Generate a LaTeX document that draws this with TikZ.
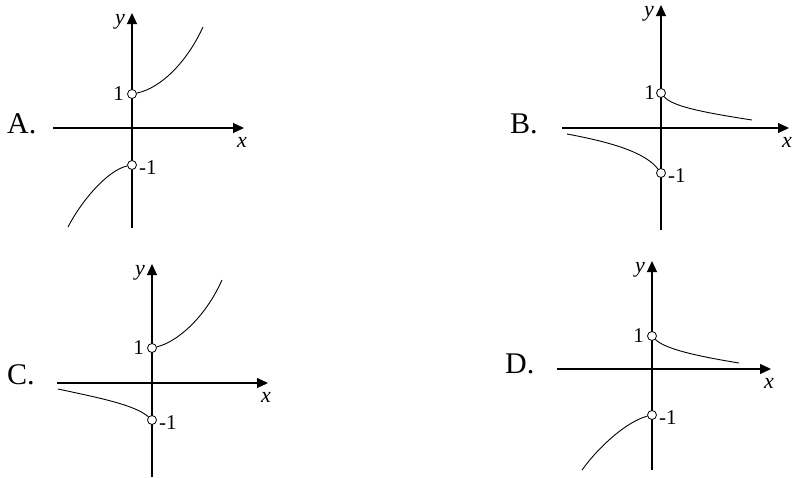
\documentclass[tikz,border=0pt]{standalone}
\usepackage{fontspec}
\setmainfont{Liberation Serif}
\usetikzlibrary{
  arrows.meta,     % triangle tips of the axes
  positioning      % labels next to holes and tips
}
\tikzset{
    every node/.style = {inner sep = 1pt},
    axis/.style = {-{Triangle[length=11pt,width=10pt]}, line width=1.1pt},
    graph/.style = {line width=0.9pt},
    hole/.style = {circle, draw, fill=white, line width=0.8pt,
                   minimum size=9pt, inner sep=0pt},
    choice/.style = {font=\fontsize{30}{30}\selectfont},
    tick/.style = {font=\fontsize{21}{21}\selectfont},
    var/.style = {font=\fontsize{22}{22}\selectfont\itshape}
}

\begin{document}
\begin{tikzpicture}[x=1pt, y=-1pt]
  \useasboundingbox (0,0) rectangle (795,477);

  %% Panel A
  \coordinate (Axl) at (53,128);
  \coordinate (Axr) at (244,128);
  \coordinate (Ayb) at (132,228);
  \coordinate (Ayt) at (132,13);
  \draw [axis] (Axl) -- (Axr);
  \draw [axis] (Ayb) -- (Ayt);
  \node [choice, anchor=base west] (Alab) at (6,133) {A.};
  \node [var, below left=0pt and 6pt of Ayt] (Ay) {y};
  \node [var, below=8pt of Axr, xshift=-2pt] (Ax) {x};

  \node [hole] (Ap) at (132,94) {};
  \node [hole] (Am) at (132,165) {};
  \node [tick, left=2pt of Ap] (Apl) {1};
  \node [tick, right=1pt of Am, yshift=-3pt] (Aml) {-1};
  \coordinate (Aue) at (203,27);
  \coordinate (Ale) at (68,227);
  \draw [graph] (Ap) .. controls (162,88) and (188,60) .. (Aue);
  \draw [graph] (Am) .. controls (108,170) and (82,200) .. (Ale);


  %% Panel B
  \coordinate (Bxl) at (562,128);
  \coordinate (Bxr) at (789,128);
  \coordinate (Byb) at (661,230);
  \coordinate (Byt) at (661,5);
  \draw [axis] (Bxl) -- (Bxr);
  \draw [axis] (Byb) -- (Byt);
  \node [choice, anchor=base west] (Blab) at (509,133) {B.};
  \node [var, below left=0pt and 6pt of Byt] (By) {y};
  \node [var, below=8pt of Bxr, xshift=-2pt] (Bx) {x};

  \node [hole] (Bp) at (661,93) {};
  \node [hole] (Bm) at (661,173) {};
  \node [tick, left=0pt of Bp] (Bpl) {1};
  \node [tick, right=1pt of Bm, yshift=-3pt] (Bml) {-1};
  \coordinate (Bue) at (752,120);
  \coordinate (Bls) at (567,134);
  \draw [graph] (Bp) .. controls (672,106) and (700,112) .. (Bue);
  \draw [graph] (Bls) .. controls (610,142) and (645,152) .. (Bm);


  %% Panel C
  \coordinate (Cxl) at (57,383);
  \coordinate (Cxr) at (268,383);
  \coordinate (Cyb) at (152,477);
  \coordinate (Cyt) at (152,264);
  \draw [axis] (Cxl) -- (Cxr);
  \draw [axis] (Cyb) -- (Cyt);
  \node [choice, anchor=base west] (Clab) at (6,384) {C.};
  \node [var, below left=0pt and 6pt of Cyt] (Cy) {y};
  \node [var, below=8pt of Cxr, xshift=-2pt] (Cx) {x};

  \node [hole] (Cp) at (152,348) {};
  \node [hole] (Cm) at (152,420) {};
  \node [tick, left=2pt of Cp] (Cpl) {1};
  \node [tick, right=1pt of Cm, yshift=-3pt] (Cml) {-1};
  \coordinate (Cue) at (222,280);
  \coordinate (Cls) at (58,389);
  \draw [graph] (Cp) .. controls (177,342) and (205,318) .. (Cue);
  \draw [graph] (Cls) .. controls (100,398) and (135,405) .. (Cm);


  %% Panel D
  \coordinate (Dxl) at (557,369);
  \coordinate (Dxr) at (771,369);
  \coordinate (Dyb) at (652,470);
  \coordinate (Dyt) at (652,261);
  \draw [axis] (Dxl) -- (Dxr);
  \draw [axis] (Dyb) -- (Dyt);
  \node [choice, anchor=base west] (Dlab) at (504,373) {D.};
  \node [var, below left=0pt and 6pt of Dyt] (Dy) {y};
  \node [var, below=8pt of Dxr, xshift=-2pt] (Dx) {x};

  \node [hole] (Dp) at (652,336) {};
  \node [hole] (Dm) at (652,415) {};
  \node [tick, left=2pt of Dp] (Dpl) {1};
  \node [tick, right=1pt of Dm, yshift=-3pt] (Dml) {-1};
  \coordinate (Due) at (739,363);
  \coordinate (Dle) at (582,470);
  \draw [graph] (Dp) .. controls (664,348) and (690,355) .. (Due);
  \draw [graph] (Dm) .. controls (628,421) and (600,445) .. (Dle);

\end{tikzpicture}
\end{document}
